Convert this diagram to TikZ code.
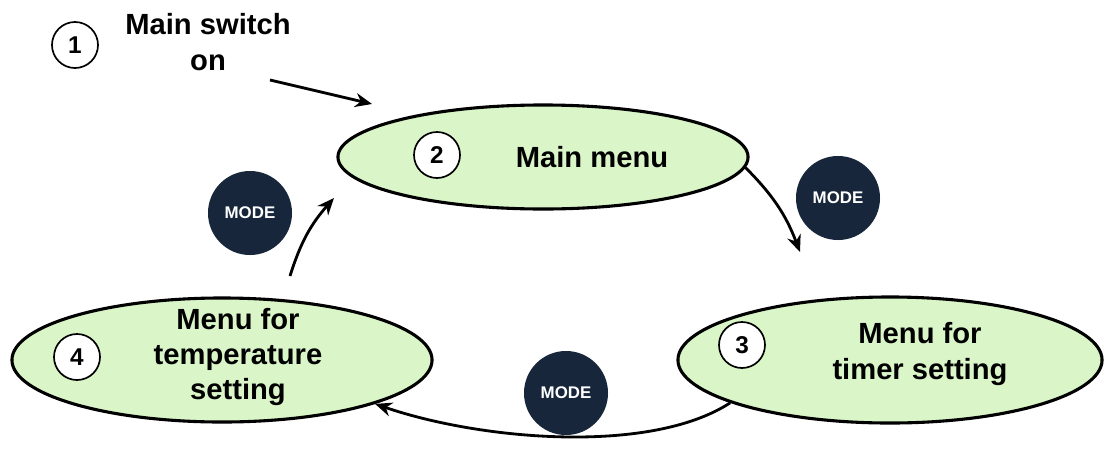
\documentclass[tikz,border=0pt]{standalone}
\usepackage{fontspec}
\setmainfont{Liberation Sans}
\usetikzlibrary{shapes.geometric,arrows.meta}
\definecolor{menugreen}{HTML}{DAF5C8}
\definecolor{modeblue}{HTML}{17263B}
\tikzset{
  state/.style={ellipse,draw,line width=2.2pt,fill=menugreen,minimum width=#1},
  num/.style={circle,draw,line width=1.2pt,fill=white,minimum size=1.15cm,font=\bfseries\LARGE},
  mode/.style={circle,fill=modeblue,text=white,minimum size=2.1cm,font=\bfseries\large},
  lbl/.style={align=center,font=\bfseries\huge},
  flow/.style={-{Stealth[length=12pt,width=10pt]},line width=2pt},
}
\begin{document}
\begin{tikzpicture}[x=0.025cm,y=-0.025cm]
\useasboundingbox (0,0) rectangle (1104,448);

% start:
\node[num] (n1) at (75,45) {1};
\node[lbl] (start) at (208,42) {Main switch\\on};
\coordinate (s0) at (270,80);
\coordinate (s1) at (372,104);

% menus:
\node[state,minimum width=10.25cm,minimum height=2.6cm] (main) at (543,157) {};
\node[num] (n2) at (437,155) {2};
\node[lbl] (tmain) at (592,157) {Main menu};

\node[state,minimum width=10.5cm,minimum height=3.1cm] (temp) at (222,360) {};
\node[num] (n4) at (77,357) {4};
\node[lbl] (ttemp) at (238,357) {Menu for\\temperature\\setting};

\node[state,minimum width=10.6cm,minimum height=3.15cm] (timer) at (890,360) {};
\node[num] (n3) at (742,345) {3};
\node[lbl] (ttimer) at (920,354) {Menu for\\timer setting};

% mode buttons:
\node[mode] (m1) at (250,213) {MODE};
\node[mode] (m2) at (838,198) {MODE};
\node[mode] (m3) at (566,393) {MODE};

% arrows:
\coordinate (a4) at (290,276);
\coordinate (a2) at (334,198);
\coordinate (a3) at (800,252);
\draw[flow] (s0) -- (s1);
\draw[flow] (a4) to[bend left=12] (a2);
\draw[flow] (main.-3) to[bend left=12] (a3);
\draw[flow] (timer.195) .. controls (650,455) and (480,440) .. (temp.-16);

\end{tikzpicture}
\end{document}
